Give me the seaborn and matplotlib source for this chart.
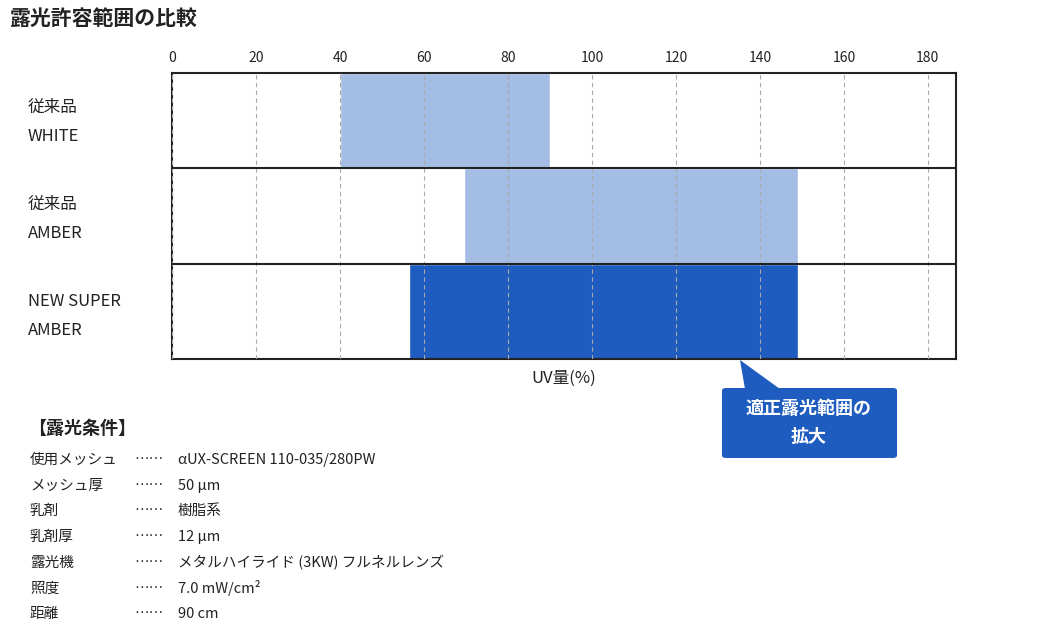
import matplotlib.pyplot as plt
import seaborn as sns
from matplotlib.patches import FancyBboxPatch, Polygon

categories = ["従来品\nWHITE", "従来品\nAMBER", "NEW SUPER\nAMBER"]
range_start = [40, 69.5, 56.5]
range_end = [90, 149, 149]
bar_colors = ["#a3bde5", "#a3bde5", "#1e5cbf"]
x_ticks = [0, 20, 40, 60, 80, 100, 120, 140, 160, 180]

cond_labels = ["使用メッシュ", "メッシュ厚", "乳剤", "乳剤厚", "露光機", "照度", "距離"]
cond_values = ["αUX-SCREEN 110-035/280PW", "50 µm", "樹脂系", "12 µm",
               "メタルハイライド (3KW) フルネルレンズ", "7.0 mW/cm²", "90 cm"]

sns.set_theme(style="white")
plt.rcParams['font.family'] = ['Noto Sans CJK JP', 'DejaVu Sans']

fig = plt.figure(figsize=(10.4, 6.43), dpi=100)
ax = fig.add_axes([172 / 1040, 1 - 359 / 643, 784 / 1040, 286 / 643])

for i, (s, e, c) in enumerate(zip(range_start, range_end, bar_colors)):
    ax.barh(i, e - s, left=s, height=1.0, color=c, zorder=1)

ax.set_xlim(0, 186.7)
ax.set_ylim(2.5, -0.5)
ax.set_xticks(x_ticks)
ax.xaxis.tick_top()
ax.tick_params(axis='x', length=0, labelsize=10, pad=6, colors='#222222')
ax.grid(axis='x', color='#aaaaaa', linestyle=(0, (4, 3)), linewidth=0.8, zorder=2)
ax.set_axisbelow(False)
for yy in [0.5, 1.5]:
    ax.axhline(yy, color='#222222', linewidth=1.5, zorder=3)
for sp in ax.spines.values():
    sp.set_color('#222222')
    sp.set_linewidth(1.5)
ax.set_yticks([])
for i, cat in enumerate(categories):
    fig.text(28 / 1040, 1 - (122 + i * 97) / 643, cat, fontsize=12, va='center',
             ha='left', linespacing=1.9, color='#222222')
ax.set_xlabel("UV量(%)", fontsize=12, labelpad=8, color='#222222')

fig.text(10 / 1040, 1 - 18 / 643, "露光許容範囲の比較", fontsize=15, fontweight='bold',
         va='center', color='#222222')

# callout
box = FancyBboxPatch((722 / 1040, 1 - 458 / 643), 175 / 1040, 70 / 643,
                     boxstyle="round,pad=0,rounding_size=0.004", transform=fig.transFigure,
                     facecolor='#1e5cbf', edgecolor='none')
fig.patches.append(box)
tri = Polygon([(740 / 1040, 1 - 360 / 643), (745 / 1040, 1 - 389 / 643), (780 / 1040, 1 - 389 / 643)],
              closed=True, transform=fig.transFigure, facecolor='#1e5cbf', edgecolor='none')
fig.patches.append(tri)
fig.text(809 / 1040, 1 - 423 / 643, "適正露光範囲の\n拡大", fontsize=13, fontweight='bold',
         color='white', ha='center', va='center', linespacing=1.6)

# conditions
fig.text(28 / 1040, 1 - 428 / 643, "【露光条件】", fontsize=13, fontweight='bold',
         va='center', color='#222222')
for k, (lab, val) in enumerate(zip(cond_labels, cond_values)):
    y = 1 - (460 + k * 25.7) / 643
    fig.text(30 / 1040, y, lab, fontsize=10.5, va='center', color='#222222')
    fig.text(135 / 1040, y, "……", fontsize=10.5, va='center', color='#222222')
    fig.text(178 / 1040, y, val, fontsize=10.5, va='center', color='#222222')

fig.savefig("out.png", dpi=100)
